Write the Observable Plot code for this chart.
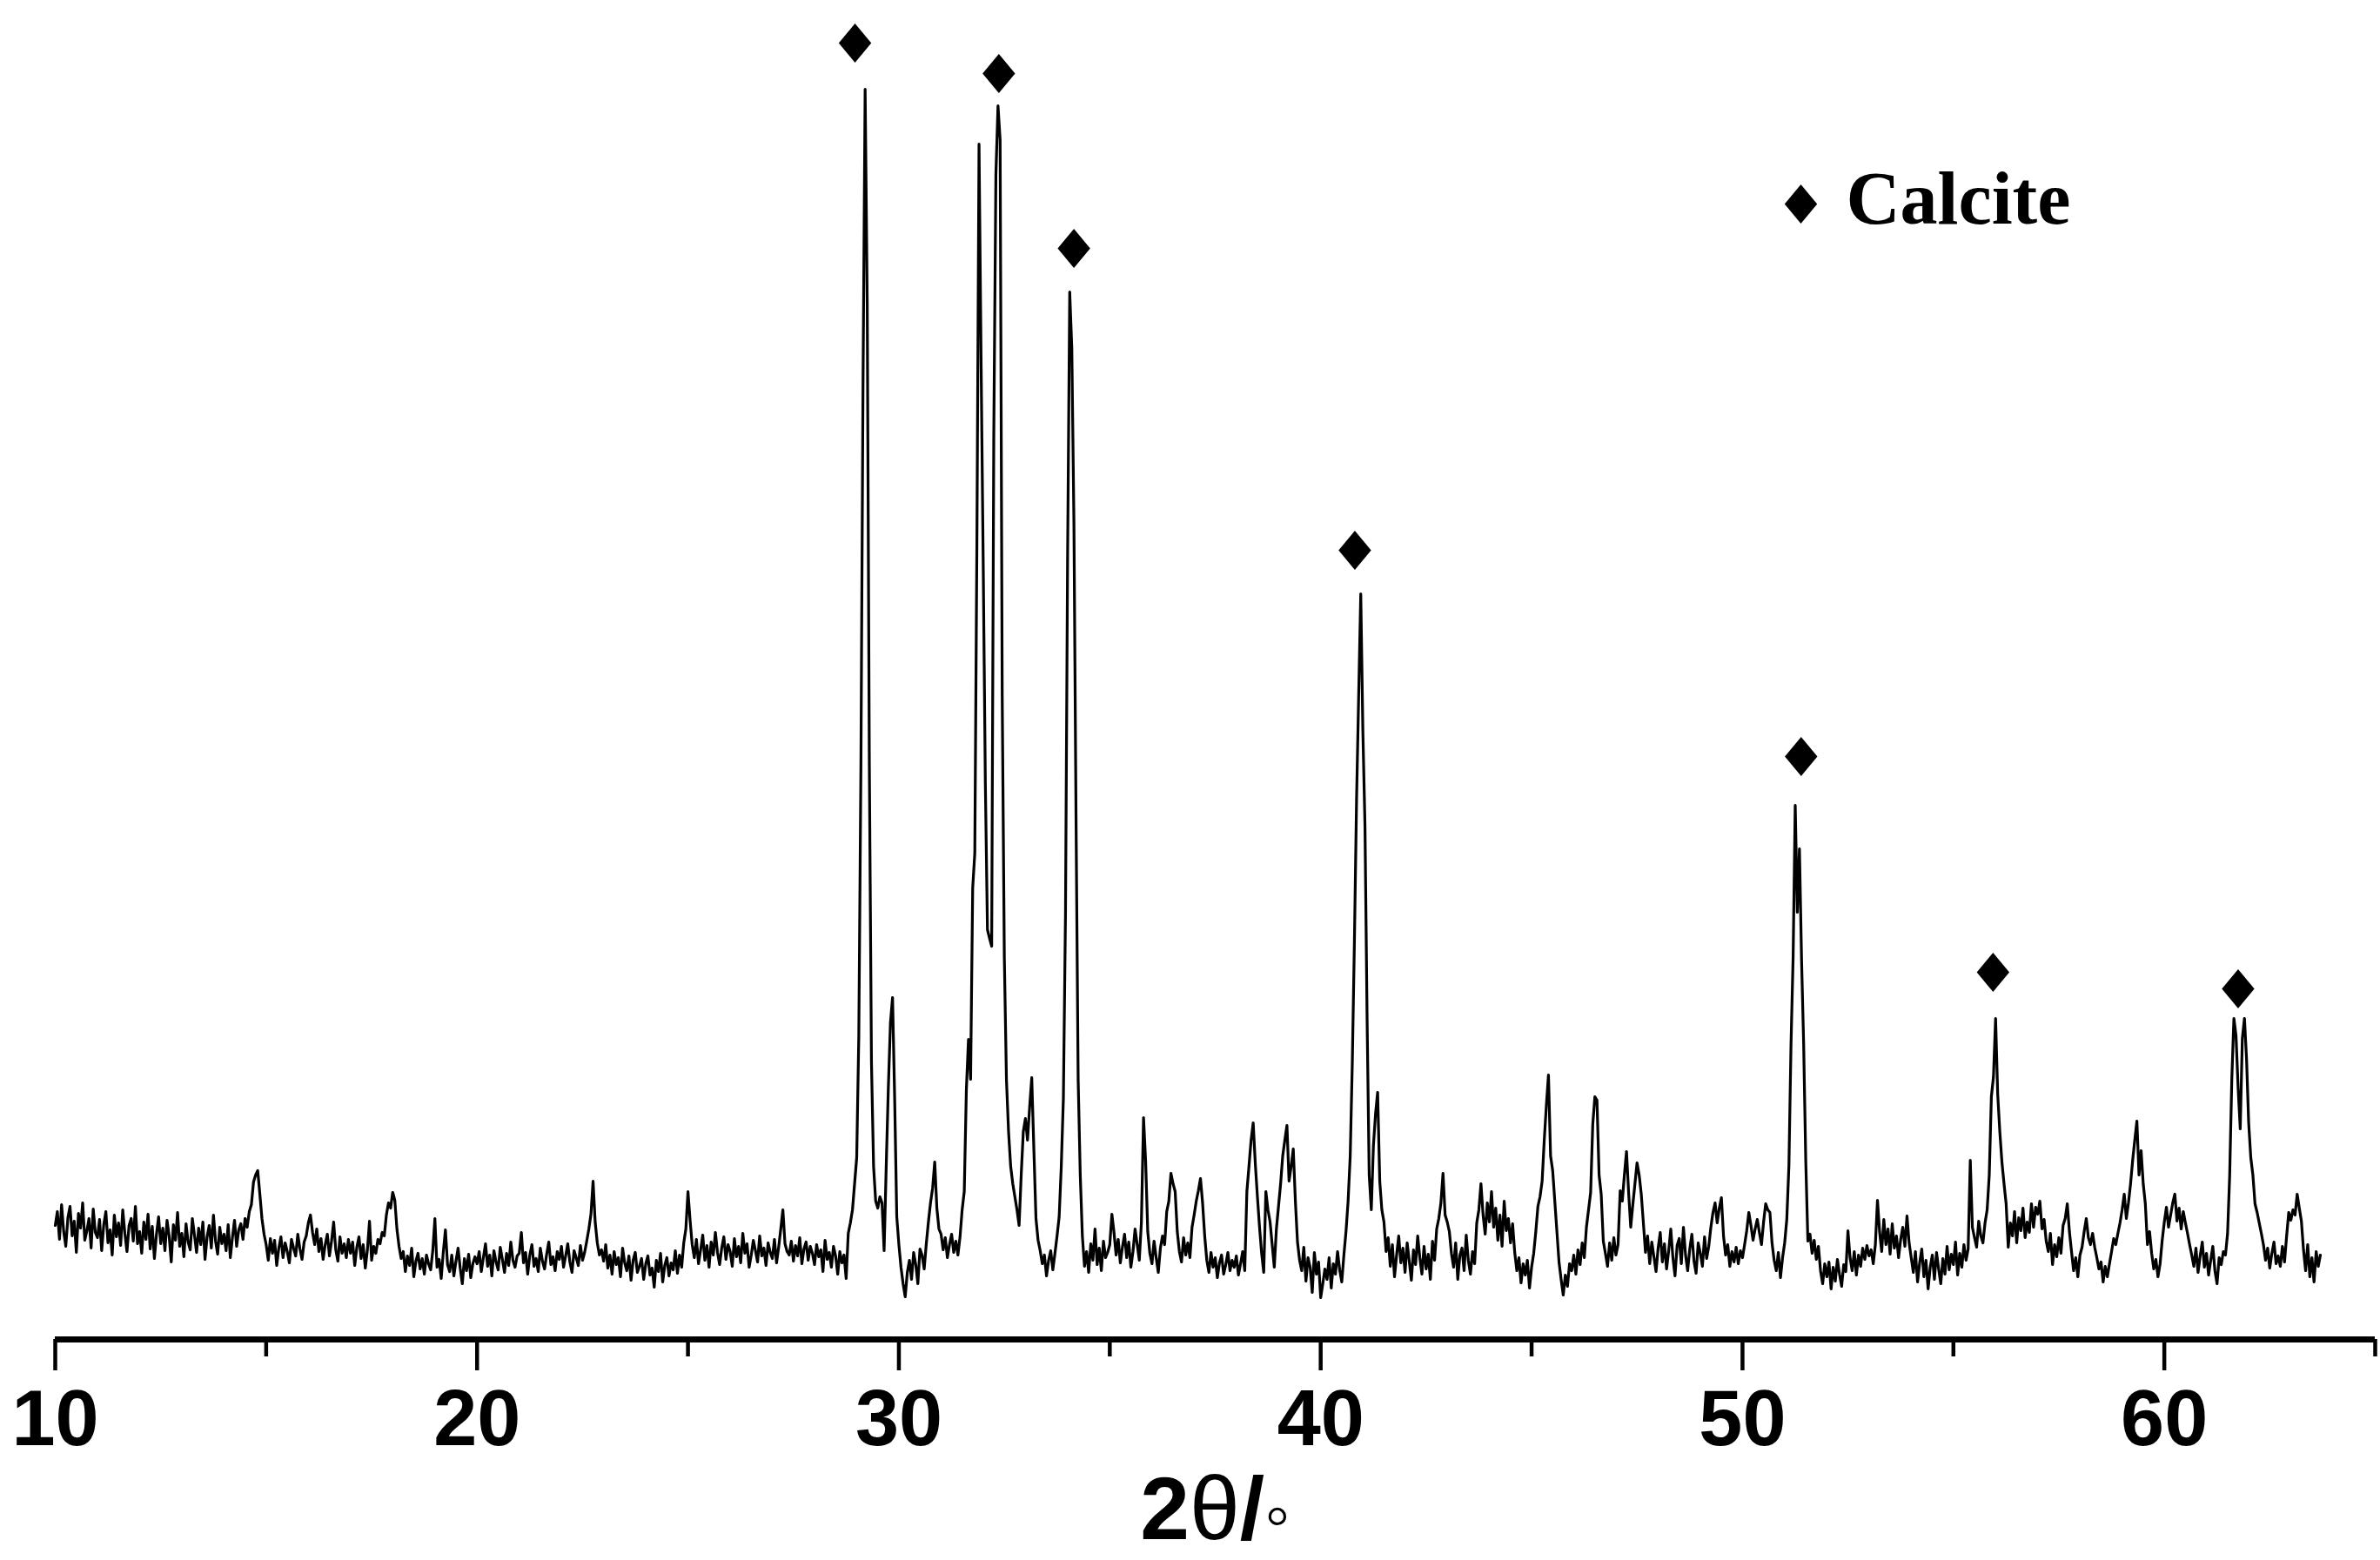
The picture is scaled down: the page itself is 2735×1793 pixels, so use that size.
<!DOCTYPE html>
<html>
<head>
<meta charset="utf-8">
<script src="https://cdn.jsdelivr.net/npm/d3@7"></script>
<script src="https://cdn.jsdelivr.net/npm/@observablehq/plot@0.6"></script>
<style>
html, body { margin: 0; padding: 0; background: #fff; }
svg { display: block; }
</style>
</head>
<body>
<div id="chart"></div>
<script>
// XRD pattern: measured on a 0.05° grid starting at 10°
const twoThetaStart = 10;
const twoThetaStep = 0.05;

const intensity10 = [
  92,108,76,116,85,68,101,114,80,97,61,106,89,118,75,86,100,66,111,84,
  78,99,63,93,108,72,87,58,104,79,95,69,110,83,62,92,100,74,114,71,
  85,60,96,76,105,65,91,54,82,102,71,89,63,98,80,50,93,75,107,68,
  83,56,94,73,64,100,81,61,89,70,96,53,79,92,66,104,74,59,90,71,
  82,63,93,55,78,98,68,87,94,76,100,90,108,116,142,150,155,128,100,82
];
const intensity15 = [
  70,52,77,60,75,46,66,79,55,72,62,49,76,66,57,82,65,53,73,80,
  95,104,84,70,88,62,77,53,70,82,57,74,96,64,51,79,60,71,55,76,
  60,73,46,67,79,54,70,43,64,97,52,68,60,76,71,84,80,104,118,112,
  130,121,88,68,54,62,39,57,46,66,33,51,60,42,54,36,58,48,41,63,
  100,44,53,31,62,87,47,39,58,34,51,66,43,25,54,40,59,32,48,56
];
const intensity20 = [
  48,62,39,55,71,45,58,34,63,50,41,67,53,38,60,46,73,52,44,57,
  60,84,49,61,36,58,70,45,54,39,66,51,42,59,73,47,56,40,62,53,
  68,44,57,71,50,38,63,55,46,69,52,61,74,88,105,143,96,72,58,64,
  51,70,43,58,36,62,47,55,33,66,49,40,57,29,52,61,38,45,54,30,
  48,57,35,43,21,52,39,60,27,46,55,34,49,41,63,37,58,44,72,88
];
const intensity25 = [
  131,98,70,55,76,48,64,81,52,69,44,73,58,84,61,47,66,79,53,70,
  62,45,77,56,68,49,83,60,71,44,58,75,63,50,80,57,66,46,72,61,
  54,76,49,67,88,110,71,62,58,74,51,69,57,78,48,65,73,52,68,60,
  47,70,56,64,39,75,53,61,44,68,57,36,62,49,58,31,83,95,110,140,
  170,310,620,1060,1398,1150,620,280,160,120,112,125,118,63,160,250,325,354,238,102
];
const intensity30 = [
  70,44,25,10,38,52,30,61,47,25,65,58,42,71,96,118,135,165,112,88,
  82,64,78,55,70,82,61,74,58,79,110,131,248,306,260,480,520,880,1335,1080,
  850,600,432,422,413,1000,1300,1379,1340,700,400,260,200,160,140,125,110,92,150,200,
  215,190,228,262,180,100,75,63,48,58,34,52,63,41,60,80,102,160,238,450,
  860,1165,1100,900,560,260,150,80,45,62,38,71,52,88,47,66,40,74,55,61
];
const intensity35 = [
  70,105,84,58,76,49,67,82,55,73,44,62,88,70,52,96,216,166,85,60,
  48,74,55,38,66,80,70,108,120,152,140,131,85,62,50,78,58,72,55,90,
  104,120,132,146,118,80,52,38,61,44,55,32,49,58,36,47,61,40,52,44,
  57,35,48,62,40,131,160,190,210,163,125,90,60,38,131,110,96,70,44,88,
  114,140,172,190,207,143,160,180,120,73,52,40,67,28,55,44,15,61,36,50
];
const intensity40 = [
  9,25,42,30,55,20,48,36,62,41,27,58,85,120,172,280,420,580,700,818,
  660,551,330,150,110,184,220,245,143,110,96,62,78,45,70,33,58,80,49,66,
  38,72,51,29,64,47,80,55,36,68,42,59,30,74,52,88,100,118,152,104,
  96,85,60,44,72,30,58,66,40,81,52,36,62,48,95,110,140,104,82,118,
  96,131,90,112,75,104,68,120,86,100,72,94,61,40,55,26,48,35,52,20
];
const intensity45 = [
  44,60,85,114,125,143,190,230,265,172,155,120,85,50,30,12,35,22,48,40,
  58,36,64,47,72,55,90,110,130,208,240,236,150,128,74,60,45,72,52,78,
  58,70,132,120,150,177,130,90,116,140,164,150,128,95,61,80,48,73,56,39,
  66,84,50,71,42,63,88,55,34,69,77,48,90,58,40,65,82,51,37,72,
  60,45,79,54,68,90,107,118,95,112,124,80,58,70,45,62,50,67,48,63
];
const intensity50 = [
  55,70,86,107,92,75,88,99,84,70,96,117,110,107,72,52,40,61,32,55,
  72,99,160,300,400,575,452,525,398,300,166,74,82,60,75,53,68,40,25,48,
  33,50,19,44,28,53,36,22,47,39,86,55,40,62,35,58,45,66,53,69,
  57,64,48,70,121,85,62,99,70,88,59,94,66,80,55,76,90,68,103,72,
  55,38,62,27,49,65,33,52,19,44,58,30,61,42,25,54,36,68,41,59
];
const intensity55 = [
  47,73,35,60,44,70,52,65,167,90,78,67,97,80,72,95,110,150,240,263,
  330,243,200,165,140,117,67,95,80,108,72,101,86,112,78,96,84,117,90,113,
  105,120,88,99,74,62,83,47,70,56,78,60,92,100,117,85,62,40,55,33,
  58,67,85,100,78,70,83,67,55,42,50,27,45,33,48,62,77,70,83,95,
  110,128,100,118,140,167,190,212,150,178,140,117,70,85,60,42,53,33,48,75
];
const intensity60 = [
  96,113,90,104,118,128,97,112,88,108,95,83,70,58,45,66,38,57,73,44,
  60,35,52,68,40,25,55,47,62,58,83,150,260,330,310,250,203,307,330,283,
  210,170,150,117,107,95,83,70,52,66,43,60,73,48,57,45,68,50,80,107,
  98,110,104,128,112,97,64,40,70,33,55,27,62,45,58
];

// Calcite reflection markers (diamonds)
const calciteTheta = [28.96, 32.37, 34.15, 40.81, 51.39, 55.94, 61.75];
const calciteIntensity = [1451, 1416, 1215, 868, 631, 383, 364];

// Axis ticks and texts
const xMajorTicks = [10, 20, 30, 40, 50, 60];
const xMinorTicks = [15, 25, 35, 45, 55, 65];
const legendLabel = "Calcite";
const xTitleParts = ["2", "θ", "/", "◦"];

// ---- build tables ----
const intensity = [].concat(intensity10, intensity15, intensity20, intensity25, intensity30,
  intensity35, intensity40, intensity45, intensity50, intensity55, intensity60);
const pattern = intensity.map((v, i) => ({
  theta: +(twoThetaStart + i * twoThetaStep).toFixed(2),
  intensity: v
}));
const markers = calciteTheta.map((t, i) => ({theta: t, intensity: calciteIntensity[i]}));

const diamond = {
  draw(ctx) {
    const w = 18.7, h = 22.5;
    ctx.moveTo(0, -h); ctx.lineTo(w, 0); ctx.lineTo(0, h); ctx.lineTo(-w, 0); ctx.closePath();
  }
};
const sans = "'Liberation Sans', Arial, Helvetica, sans-serif";
const serif = "'Liberation Serif', 'Times New Roman', Times, serif";
const titleString = xTitleParts.join("");

const svg = Plot.plot({
  width: 2735,
  height: 1793,
  marginLeft: 63,
  marginRight: 6,
  marginTop: 18,
  marginBottom: 254,
  style: {background: "white", fontFamily: sans, color: "black", overflow: "visible"},
  x: {domain: [10, 65]},
  y: {domain: [-39, 1482], axis: null},
  marks: [
    Plot.line(pattern, {x: "theta", y: "intensity", stroke: "black", strokeWidth: 3.2}),
    Plot.dot(markers, {x: "theta", y: "intensity", symbol: diamond, fill: "black", stroke: "none"}),
    Plot.ruleY([-39], {stroke: "black", strokeWidth: 7}),
    Plot.axisX(xMajorTicks, {
      tickSize: 36, tickPadding: 22, strokeWidth: 4.5,
      fontSize: 90, fontWeight: "bold", fontFamily: sans,
      label: null, tickFormat: d => String(d)
    }),
    Plot.axisX(xMinorTicks, {tickSize: 20, strokeWidth: 4.5, tickFormat: () => "", label: null}),
    Plot.dot([legendLabel], {frameAnchor: "top-left", dx: 2006, dy: 216, symbol: diamond, fill: "black", stroke: "none"}),
    Plot.text([legendLabel], {
      frameAnchor: "top-left", dx: 2058, dy: 238, textAnchor: "start", lineAnchor: "bottom",
      fontSize: 86, fontWeight: "bold", fontFamily: serif, fill: "black"
    }),
    Plot.text([titleString], {
      frameAnchor: "bottom", dy: 229, lineAnchor: "bottom",
      fontSize: 102, fontFamily: sans, fill: "black"
    })
  ]
});

// style the axis title: bold digit and slash, regular theta and small circle
const titleText = Array.from(svg.querySelectorAll("text")).find(t => t.textContent === titleString);
if (titleText) {
  titleText.textContent = "";
  const weights = ["700", "400", "700", "400"];
  const sizes = ["102px", "104px", "102px", "84px"];
  xTitleParts.forEach((ch, i) => {
    const ts = document.createElementNS("http://www.w3.org/2000/svg", "tspan");
    ts.style.fontWeight = weights[i];
    ts.style.fontSize = sizes[i];
    ts.style.fontFamily = sans;
    ts.textContent = ch;
    titleText.appendChild(ts);
  });
}

document.getElementById("chart").appendChild(svg);
</script>
</body>
</html>
